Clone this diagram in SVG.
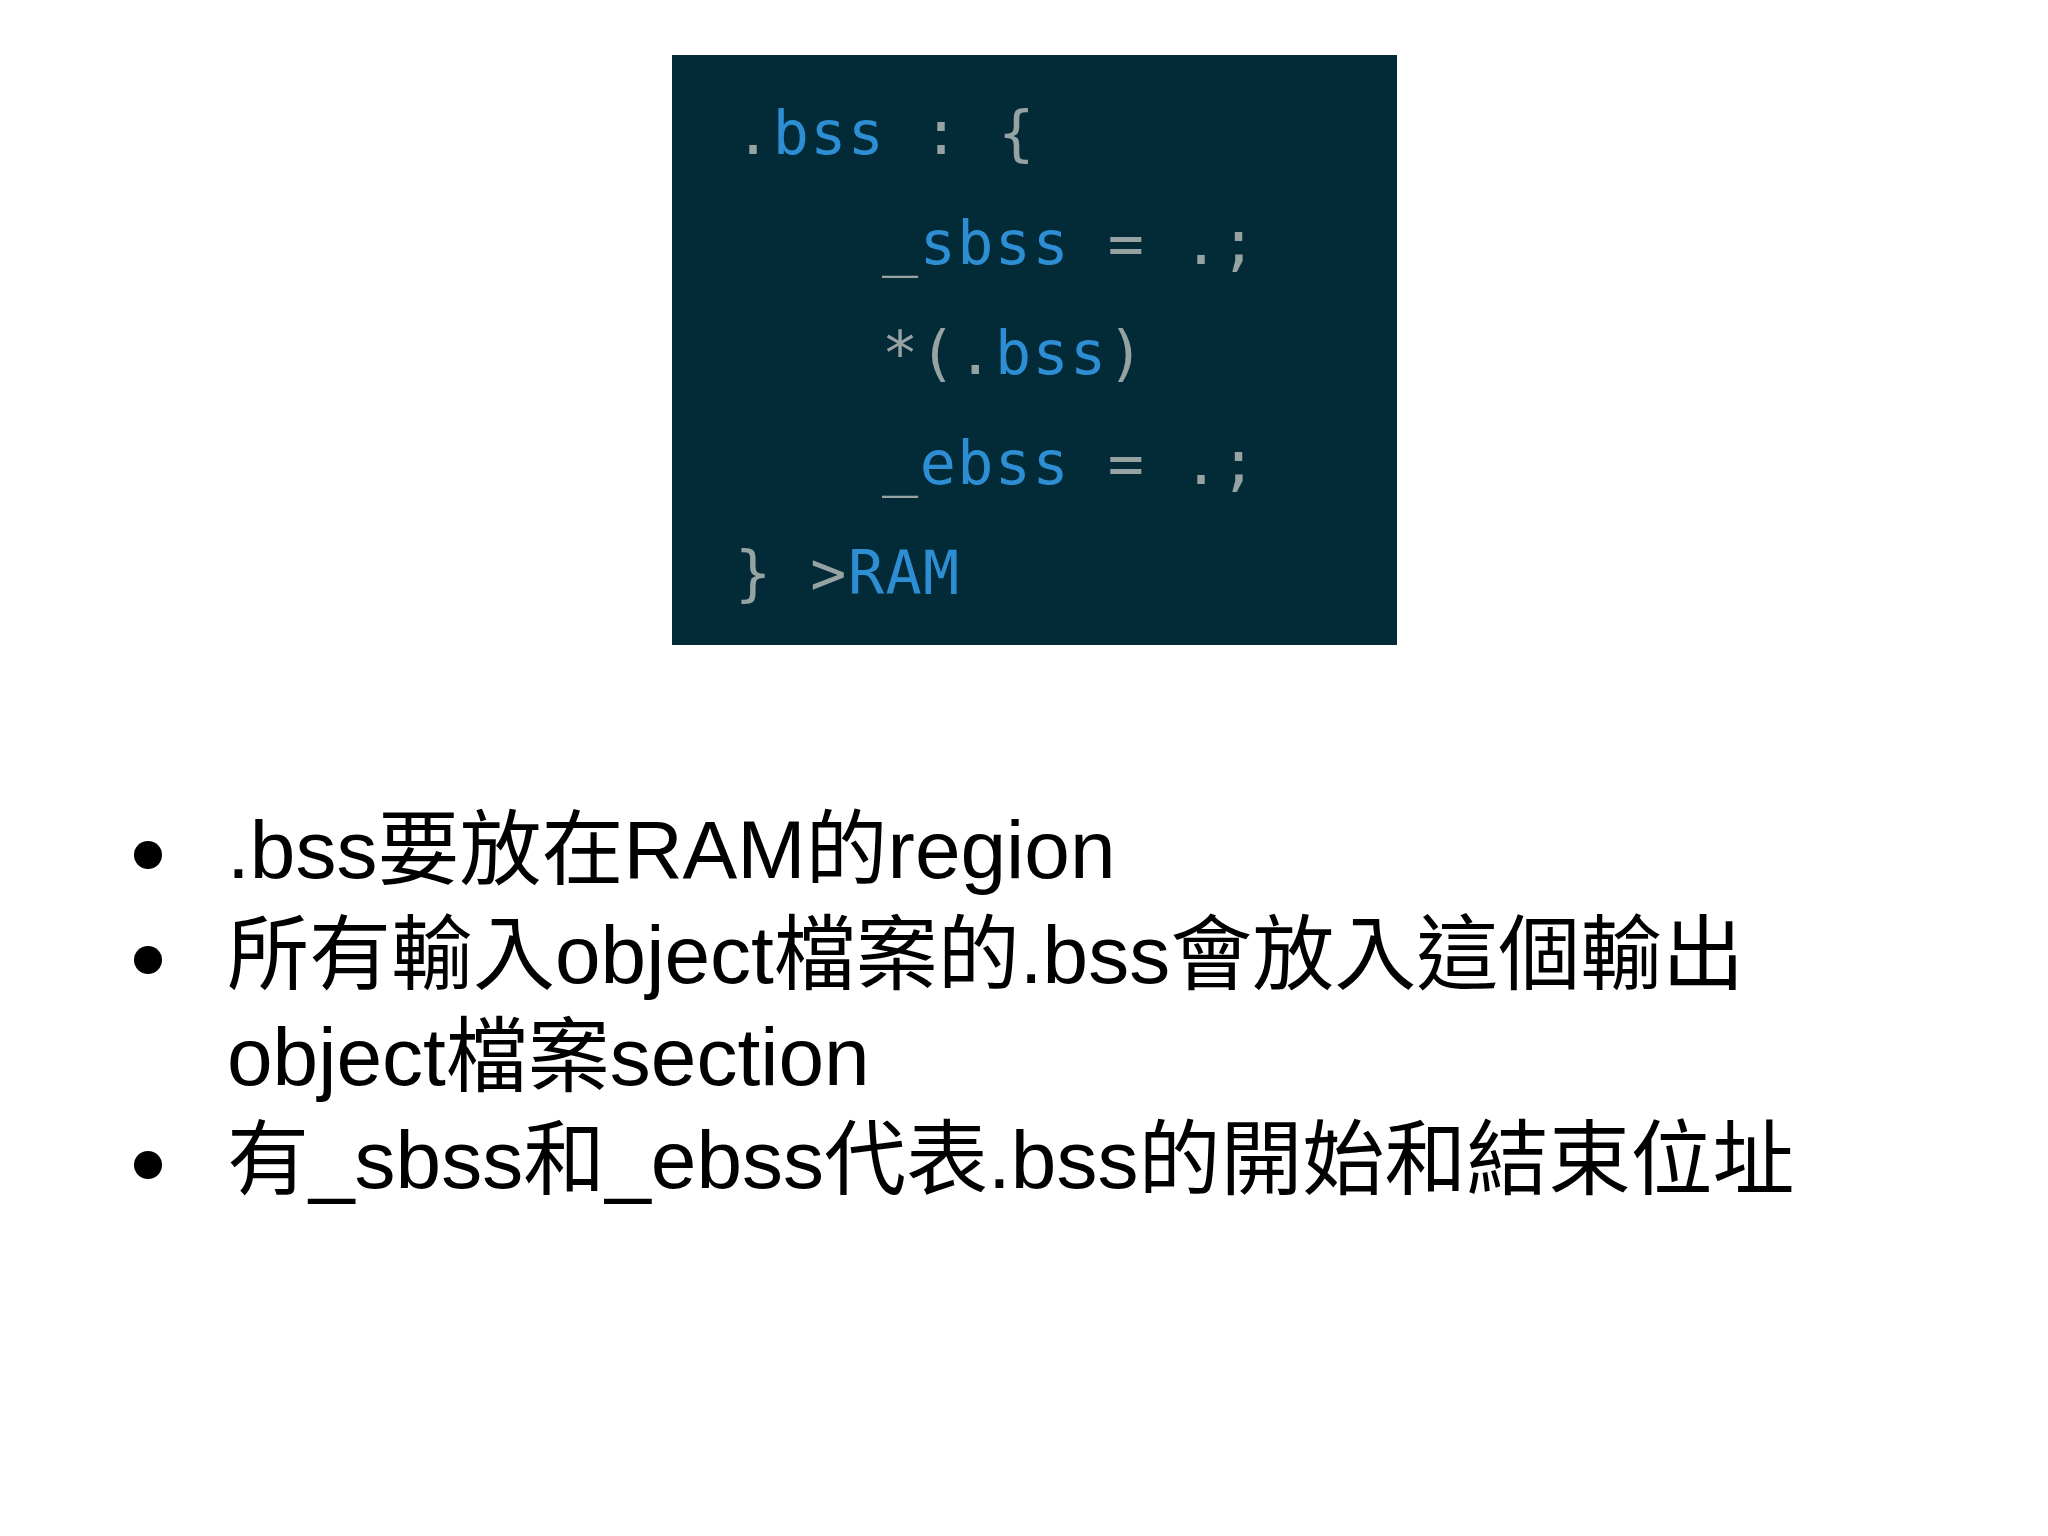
<svg xmlns="http://www.w3.org/2000/svg" width="2048" height="1536" viewBox="0 0 2048 1536">
<style>
.c{font-family:"DejaVu Sans Mono",monospace;font-size:60px;letter-spacing:1.5px}
.b{fill:#2d8ed4}.g{fill:#97a3a3}
.t{font-family:"Liberation Sans","Noto Sans CJK TC",sans-serif;font-size:82px;fill:#000}
</style>
<rect width="2048" height="1536" fill="#fff"/>
<g id="code">
<rect x="672" y="55" width="725" height="590" fill="#032b37"/>
<text class="c" x="735" y="154"><tspan class="g">.</tspan><tspan class="b">bss</tspan><tspan class="g"> : {</tspan></text>
<text class="c" x="882" y="264"><tspan class="g">_</tspan><tspan class="b">sbss</tspan><tspan class="g"> = .;</tspan></text>
<text class="c" x="882" y="374"><tspan class="g">*(.</tspan><tspan class="b">bss</tspan><tspan class="g">)</tspan></text>
<text class="c" x="882" y="484"><tspan class="g">_</tspan><tspan class="b">ebss</tspan><tspan class="g"> = .;</tspan></text>
<text class="c" x="735" y="594"><tspan class="g">} &gt;</tspan><tspan class="b">RAM</tspan></text>
</g>
<g id="bullets">
<circle cx="148" cy="855" r="14"/>
<circle cx="148" cy="960" r="14"/>
<circle cx="148" cy="1165" r="14"/>
<text class="t" x="227" y="878">.bss要放在RAM的region</text>
<text class="t" x="227" y="983">所有輸入object檔案的.bss會放入這個輸出</text>
<text class="t" x="227" y="1085">object檔案section</text>
<text class="t" x="227" y="1188">有_sbss和_ebss代表.bss的開始和結束位址</text>
</g>
</svg>
